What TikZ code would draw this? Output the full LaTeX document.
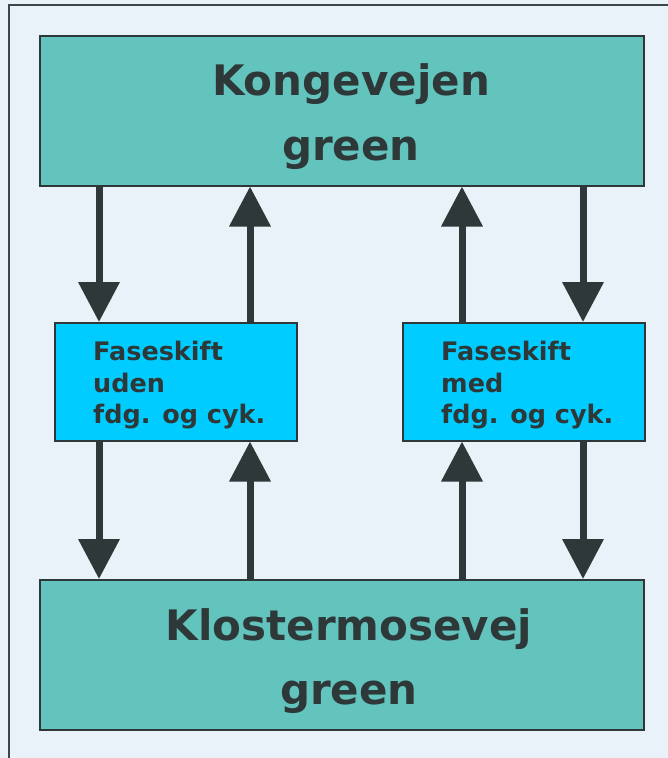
\documentclass[tikz,border=0pt]{standalone}
\usepackage{fontspec}
\setmainfont{DejaVu Sans}
\usetikzlibrary{arrows.meta}
\definecolor{bgc}{HTML}{E8F2F8}
\definecolor{teal1}{HTML}{63C4BE}
\definecolor{cyan1}{HTML}{00CCFF}
\definecolor{darkc}{HTML}{2E3838}
\definecolor{framec}{HTML}{3A4848}
\tikzset{
  bigbox/.style={draw=darkc, line width=1.5pt, fill=teal1, minimum width=604pt, minimum height=150pt, inner sep=0pt, anchor=north west},
  bigtext/.style={text=darkc, font=\fontsize{42}{64.5}\selectfont\bfseries, align=center, inner sep=0pt},
  smallbox/.style={draw=darkc, line width=1.5pt, fill=cyan1, minimum width=242pt, minimum height=118pt, inner sep=0pt, anchor=north west},
  smalltext/.style={text=darkc, font=\fontsize{25.5}{31.5}\selectfont\bfseries, align=left, anchor=north west, inner sep=0pt},
  arr/.style={draw=darkc, line width=7pt, -{Triangle[width=40pt,length=40pt]}}
}
\begin{document}
\begin{tikzpicture}[x=1pt,y=-1pt]
\fill[bgc] (0,0) rectangle (668,758);
\useasboundingbox (0,0) rectangle (668,758);
\draw[framec, line width=2pt] (8.5,758) -- (8.5,4.5) -- (668,4.5);
\node[bigbox] (top) at (39,35) {};
\node[bigbox] (bot) at (39,579) {};
\node[bigtext] (tt) at (351,116.5) {Kongevejen\\green};
\node[bigtext] (bt) at (349,661) {Klostermosevej\\green};
\node[smallbox] (lb) at (54,322) {};
\node[smallbox] (rb) at (402,322) {};
\node[smalltext] (lt) at (93,341) {Faseskift\\uden\\fdg. og cyk.};
\node[smalltext] (rt) at (441,341) {Faseskift\\med\\fdg. og cyk.};
% x positions
\coordinate (xa) at (99,0);
\coordinate (xb) at (250,0);
\coordinate (xc) at (462,0);
\coordinate (xd) at (583,0);
\draw[arr] (top.south -| xa) -- (lb.north -| xa);
\draw[arr] (lb.north -| xb) -- (top.south -| xb);
\draw[arr] (rb.north -| xc) -- (top.south -| xc);
\draw[arr] (top.south -| xd) -- (rb.north -| xd);
\draw[arr] (lb.south -| xa) -- (bot.north -| xa);
\draw[arr] (bot.north -| xb) -- (lb.south -| xb);
\draw[arr] (bot.north -| xc) -- (rb.south -| xc);
\draw[arr] (rb.south -| xd) -- (bot.north -| xd);
\end{tikzpicture}
\end{document}
